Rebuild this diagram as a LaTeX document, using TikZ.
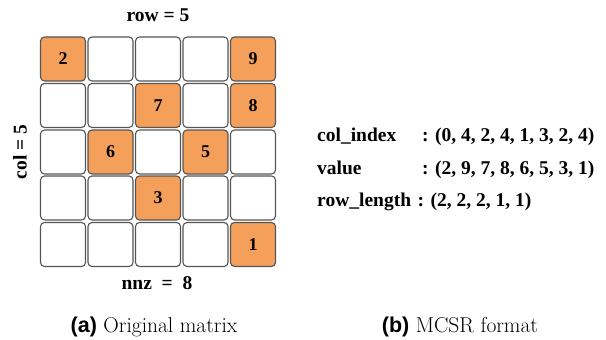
\documentclass[tikz,border=0pt]{standalone}
\usepackage{fontspec}
\newfontfamily\tnr{Liberation Serif}
\newfontfamily\hel{Liberation Sans}
\definecolor{cellfill}{RGB}{244,160,90}
\definecolor{cellline}{RGB}{85,85,85}
\begin{document}
\begin{tikzpicture}[x=1pt,y=-1pt,
  cellbox/.style={draw=cellline,line width=1.1pt,rounded corners=4pt,
    minimum width=45pt,minimum height=44pt,inner sep=0pt,
    font=\tnr\bfseries\fontsize{18}{20}\selectfont},
  nzbox/.style={cellbox,fill=cellfill},
  lbl/.style={inner sep=0pt,font=\tnr\bfseries\fontsize{19.5}{22}\selectfont},
  fmt/.style={lbl,anchor=base west},
  captext/.style={inner sep=0pt,anchor=base,font=\fontsize{21.5}{24}\selectfont}]
\useasboundingbox (0,0) rectangle (606,340);
% matrix cells, row by row
\foreach \r/\y/\vals in {1/59/{2,,,,9},2/105.5/{,,7,,8},3/152/{,6,,5,},4/198/{,,3,,},5/244.5/{,,,,1}}{
  \foreach \v [count=\c] in \vals {
    \pgfmathsetmacro\xx{63+(\c-1)*47.5}
    \ifx\v\empty
      \node[cellbox] (m-\r-\c) at (\xx,\y) {};
    \else
      \node[nzbox] (m-\r-\c) at (\xx,\y) {\v};
    \fi
  }
}
% dimension labels
\node[lbl] (rowlbl) at (158,15) {row = 5};
\node[lbl,rotate=90] (collbl) at (20,152) {col = 5};
\node[lbl] (nnzlbl) at (157,283) {nnz\ \ =\ \ 8};
% MCSR arrays
\node[fmt] (ci) at (317,141.5) {col\_index};
\node[fmt] (cic) at (422,141.5) {: (0, 4, 2, 4, 1, 3, 2, 4)};
\node[fmt] (va) at (317,174) {value};
\node[fmt] (vac) at (422,174) {: (2, 9, 7, 8, 6, 5, 3, 1)};
\node[fmt] (rl) at (317,206) {row\_length};
\node[fmt] (rlc) at (417.5,206) {: (2, 2, 2, 1, 1)};
% captions
\node[captext] (capa) at (154,332) {{\hel\bfseries (a)} Original matrix};
\node[captext] (capb) at (460,332) {{\hel\bfseries (b)} MCSR format};
\end{tikzpicture}
\end{document}
